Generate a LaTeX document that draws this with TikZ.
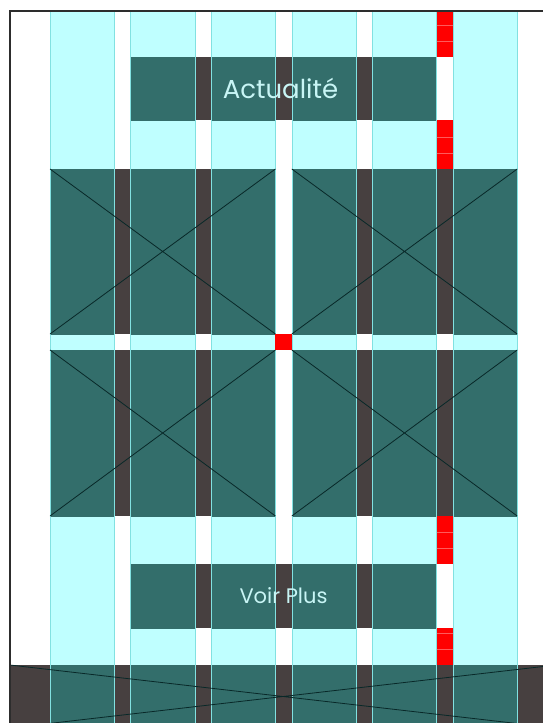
\documentclass[tikz,border=0pt]{standalone}
\usepackage{fontspec}
\setmainfont{Poppins}
\definecolor{colcyan}{RGB}{191,255,255}
\definecolor{boxteal}{RGB}{51,110,107}
\definecolor{boxgray}{RGB}{71,64,64}
\definecolor{edgecyan}{RGB}{130,225,225}
\definecolor{crossline}{RGB}{8,40,40}
\definecolor{framegray}{RGB}{45,45,45}
\definecolor{txtcyan}{RGB}{200,245,245}
\definecolor{redcell}{RGB}{255,0,0}
\definecolor{redline}{RGB}{255,90,90}
\newcommand\colxs{50,130.6,211.2,291.8,372.4,453}
\newcommand\mydarkbox[4]{%
  \fill[boxgray] (#1,#2) rectangle (#3,#4);
  \begin{scope}
    \clip (#1,#2) rectangle (#3,#4);
    \foreach \cx in \colxs {\fill[boxteal] (\cx,0) rectangle ({\cx+64.2},740);}
  \end{scope}}
\tikzset{
  crossstyle/.style={draw=crossline, line width=0.8pt},
  redstyle/.style={fill=redcell},
  redsep/.style={draw=redline, line width=0.3pt},
  coledge/.style={draw=edgecyan, line width=0.5pt},
  labeltext/.style={text=txtcyan, inner sep=0pt}
}
\begin{document}
\begin{tikzpicture}[x=1pt,y=-1pt]
\useasboundingbox (0,0) rectangle (543,723);
\clip (0,0) rectangle (543,723);
\fill[white] (0,0) rectangle (543,723);
% columns
\foreach \cx in \colxs {\fill[colcyan] (\cx,11) rectangle ({\cx+64.2},740);}
% Actualite box
\mydarkbox{130.6}{57}{436.6}{120}
% image boxes
\mydarkbox{50}{169}{275.4}{334}
\mydarkbox{291.8}{169}{517.2}{334}
\mydarkbox{50}{350}{275.4}{516}
\mydarkbox{291.8}{350}{517.2}{516}
% Voir plus box
\mydarkbox{130.6}{564}{436.6}{628}
% bottom band
\mydarkbox{10}{665}{556}{728}
% column edges
\foreach \cx in \colxs {
  \draw[coledge] (\cx,11) -- (\cx,723);
  \draw[coledge] ({\cx+64.2},11) -- ({\cx+64.2},723);
}
% labels
\node[labeltext, font=\fontsize{26}{30}\selectfont] (actu) at (280.5,88.5) {Actualité};
\node[labeltext, font=\fontsize{21}{25}\selectfont] (voir) at (283.5,595.5) {Voir Plus};
% crosses
\draw[crossstyle] (50,169) -- (275.4,334) (50,334) -- (275.4,169);
\draw[crossstyle] (291.8,169) -- (517.2,334) (291.8,334) -- (517.2,169);
\draw[crossstyle] (50,350) -- (275.4,516) (50,516) -- (275.4,350);
\draw[crossstyle] (291.8,350) -- (517.2,516) (291.8,516) -- (517.2,350);
\draw[crossstyle] (10,665) -- (556,728) (10,728) -- (556,665);
% red cells
\fill[redstyle] (436.6,11) rectangle (453,57);
\draw[redsep] (436.6,25) -- (453,25) (436.6,41) -- (453,41);
\fill[redstyle] (436.6,120) rectangle (453,169);
\draw[redsep] (436.6,137) -- (453,137) (436.6,153) -- (453,153);
\fill[redstyle] (436.6,516) rectangle (453,564);
\draw[redsep] (436.6,532) -- (453,532) (436.6,548) -- (453,548);
\fill[redstyle] (436.6,628) rectangle (453,665);
\draw[redsep] (436.6,633) -- (453,633) (436.6,649) -- (453,649);
\fill[redstyle] (275.4,334) rectangle (291.8,350);
% frame
\draw[framegray, line width=2pt] (10,740) -- (10,10.5) -- (560,10.5);
\end{tikzpicture}
\end{document}
